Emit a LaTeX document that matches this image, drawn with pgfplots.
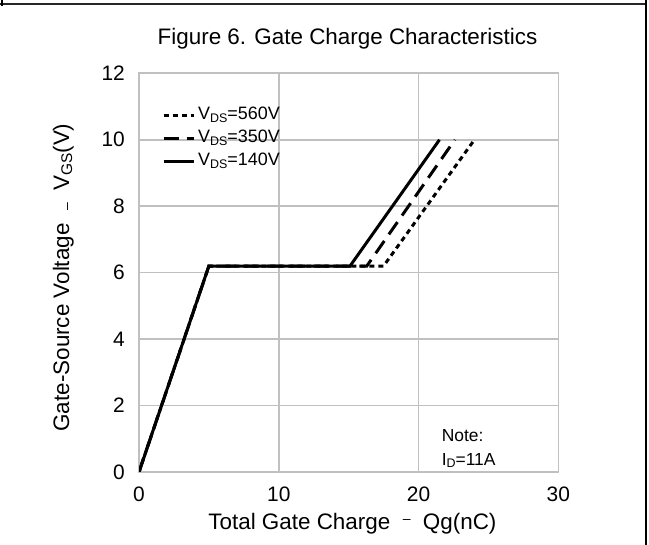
\documentclass[border=0pt]{standalone}
\usepackage{pgfplots}
\pgfplotsset{compat=1.18}
\usepackage{fontspec}
\setmainfont{Liberation Sans}
\definecolor{gridgray}{HTML}{C0C0C0}
\newcommand{\subsm}[1]{\raisebox{-2.5bp}{\fontsize{12.5}{13}\selectfont #1}}
\newcommand{\sublg}[1]{\raisebox{-3bp}{\fontsize{15.5}{16}\selectfont #1}}
\begin{document}
\begin{tikzpicture}
\useasboundingbox (0,0) rectangle (649bp,545bp);
\begin{axis}[
  at={(139bp,73bp)}, anchor=south west, scale only axis,
  width=419.3bp, height=398.7bp,
  xmin=0, xmax=30, ymin=0, ymax=12,
  xtick={0,10,20,30}, ytick={0,2,4,6,8,10,12},
  grid=major, major grid style={gridgray, line width=1.6bp},
  axis line style={gridgray, line width=1.6bp},
  major tick length=0pt,
  tick label style={font=\fontsize{21}{25}\selectfont, /pgf/number format/assume math mode=true},
  xticklabel style={anchor=north, inner sep=0pt, yshift=-15bp},
  yticklabel style={anchor=east, inner sep=0pt, xshift=-14bp},
  title={Figure 6. Gate Charge Characteristics},
  title style={at={(axis description cs:0.4973,1.0567)}, anchor=base, inner sep=0pt, font=\fontsize{22.5}{27}\selectfont},
  xlabel={Total Gate Charge\ \ \raisebox{6bp}{\fontsize{14}{14}\selectfont –}\ \ Qg(nC)},
  xlabel style={at={(axis description cs:0.509,-0.1437)}, anchor=base, inner sep=0pt, font=\fontsize{22.5}{27}\selectfont},
  ylabel={Gate-Source Voltage\ \ \raisebox{-2bp}{\fontsize{14}{14}\selectfont –}\ \ V\sublg{GS}(V)},
  ylabel style={at={(axis description cs:-0.1669,0.4878)}, anchor=base, inner sep=0pt, font=\fontsize{22.5}{27}\selectfont},
  legend image code/.code={\draw[#1] (0bp,0bp) -- (30bp,0bp);},
  legend cell align=left,
  legend style={draw=none, fill=none, at={(axis description cs:0.0549,0.9167)}, anchor=north west,
    inner sep=0pt, column sep=3bp, row sep=6bp, font=\fontsize{18}{20}\selectfont,
    nodes={inner sep=0pt, text height=13bp, text depth=4bp}},
]
\addplot[black, line width=3bp, dash pattern=on 5bp off 4bp] coordinates {(0,0) (5,6.2) (17.5,6.2) (24.0,10)};
\addlegendentry{V\subsm{DS}=560V}
\addplot[black, line width=3bp, dash pattern=on 15bp off 8bp] coordinates {(0,0) (5,6.2) (16.3,6.2) (22.6,10)};
\addlegendentry{V\subsm{DS}=350V}
\addplot[black, line width=3bp] coordinates {(0,0) (5,6.2) (15.1,6.2) (21.5,10)};
\addlegendentry{V\subsm{DS}=140V}
\node[anchor=base west, inner sep=0pt, font=\fontsize{17.5}{20}\selectfont] at (axis cs:21.65,0.93) {Note:};
\node[anchor=base west, inner sep=0pt, font=\fontsize{17.5}{20}\selectfont] at (axis cs:21.65,0.21) {I\subsm{D}=11A};
\end{axis}
\draw[line width=1.8bp, black!85] (0bp,540.7bp) -- (646bp,540.7bp);
\draw[line width=2bp] (645.8bp,0bp) -- (645.8bp,545bp);
\draw[line width=1.5bp] (2bp,545bp) -- (2bp,539bp);
\end{tikzpicture}
\end{document}
